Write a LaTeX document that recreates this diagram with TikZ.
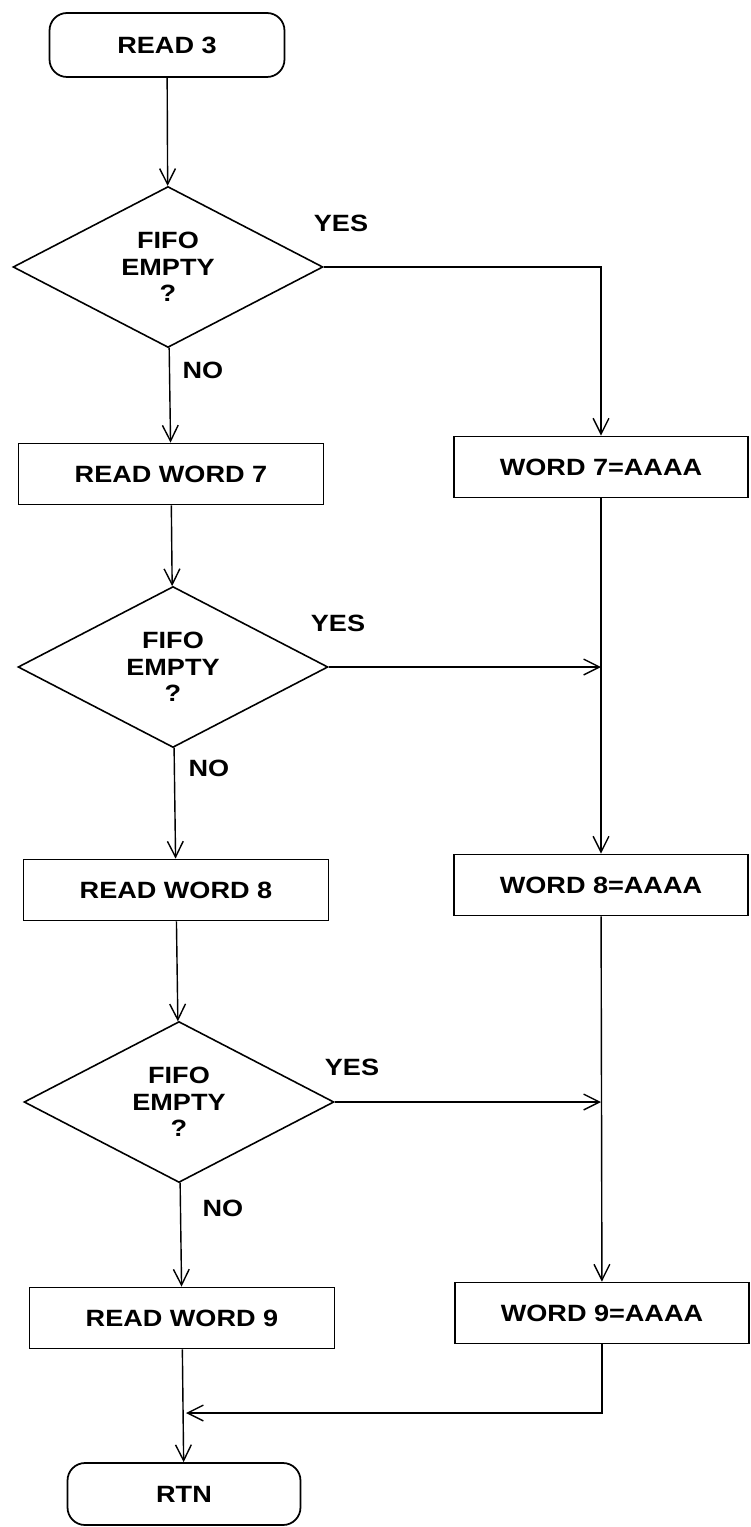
\documentclass[tikz,border=0pt]{standalone}
\usepackage{fontspec}
\setmainfont{Liberation Sans}[FakeStretch=1.15]
\usetikzlibrary{shapes.geometric,arrows.meta}

\tikzset{
  every node/.style={font=\fontsize{13.4}{15}\selectfont\bfseries},
  terminal/.style={draw, line width=1pt, rounded corners=0.35cm, minimum width=4.7cm, minimum height=1.28cm},
  process/.style={draw, line width=1pt, minimum width=6.1cm, minimum height=1.22cm},
  fillbox/.style={process, minimum width=5.88cm},
  decision/.style={draw, diamond, line width=0.9pt, aspect=1.93, inner sep=0pt,
    minimum width=6.2cm, minimum height=3.22cm, align=center},
  lbl/.style={inner sep=0pt}
}

\begin{document}
\begin{tikzpicture}[x=0.02cm, y=-0.02cm, >={Straight Barb[length=9pt,width=9pt]}, thick]
  \useasboundingbox (0,0) rectangle (750,1527);

  % Left column
  \node[terminal] (read3) at (167,45) {READ 3};
  \node[decision] (empty1) at (168,267) {FIFO\\EMPTY\\?};
  \node[process] (word7) at (171,474) {READ WORD 7};
  \node[decision] (empty2) at (173,667) {FIFO\\EMPTY\\?};
  \node[process] (word8) at (176,890) {READ WORD 8};
  \node[decision] (empty3) at (179,1102) {FIFO\\EMPTY\\?};
  \node[process] (word9) at (182,1318) {READ WORD 9};
  \node[terminal, minimum width=4.66cm, minimum height=1.24cm] (rtn) at (184,1494) {RTN};

  % Right column
  \node[fillbox] (fill7) at (601,467) {WORD 7=AAAA};
  \node[fillbox] (fill8) at (601,885) {WORD 8=AAAA};
  \node[fillbox] (fill9) at (602,1313) {WORD 9=AAAA};

  % Branch labels
  \node[lbl] (yes1) at (341,223) {YES};
  \node[lbl] (yes2) at (338,623) {YES};
  \node[lbl] (yes3) at (352,1067) {YES};
  \node[lbl] (no1) at (203,370) {NO};
  \node[lbl] (no2) at (209,768) {NO};
  \node[lbl] (no3) at (223,1208) {NO};

  % NO path
  \draw[->] (read3) -- (empty1);
  \draw[->] (empty1) -- (word7);
  \draw[->] (word7) -- (empty2);
  \draw[->] (empty2) -- (word8);
  \draw[->] (word8) -- (empty3);
  \draw[->] (empty3) -- (word9);
  \draw[->] (word9) -- (rtn);

  % YES path
  \draw[->] (empty1.east) -| (fill7.north);
  \draw[->] (empty2.east) -- (empty2.east -| fill7.south);
  \draw[->] (empty3.east) -- (empty3.east -| fill8.south);
  \draw[->] (fill7) -- (fill8);
  \draw[->] (fill8) -- (fill9);
  \coordinate (merge) at (186,1413);
  \draw[->] (fill9.south) |- (merge);
\end{tikzpicture}
\end{document}
